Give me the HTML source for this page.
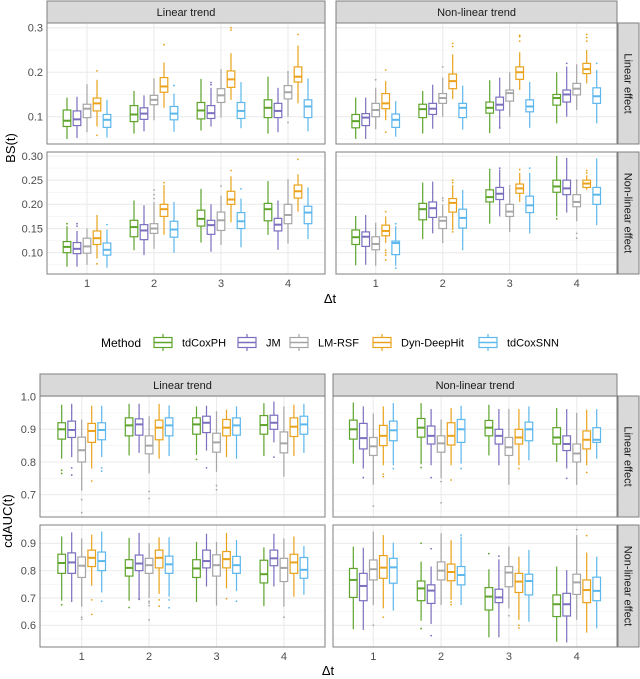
<!DOCTYPE html>
<html><head><meta charset="utf-8"><style>
body{margin:0;background:#fff;}
svg{display:block;font-family:"Liberation Sans",sans-serif;}
</style></head><body>
<svg id="c" width="640" height="679" viewBox="0 0 640 679" xmlns="http://www.w3.org/2000/svg"></svg>
<script>
const methods = ["tdCoxPH","JM","LM-RSF","Dyn-DeepHit","tdCoxSNN"];
const colors = ["#5ea42a","#7a6fbe","#a6a6a6","#eaa21a","#5bb7ec"];
const groups = ["1","2","3","4"];
const colTitles = ["Linear trend","Non-linear trend"];
const rowTitles = ["Linear effect","Non-linear effect"];
// box stats [low whisker, q1, median, q3, high whisker]
const bsLinLin = [
 [[0.05,0.078,0.091,0.115,0.143],[0.052,0.08,0.094,0.113,0.145],[0.065,0.098,0.118,0.128,0.173],[0.078,0.113,0.13,0.142,0.183],[0.053,0.076,0.093,0.105,0.138]],
 [[0.062,0.089,0.105,0.125,0.158],[0.067,0.094,0.107,0.12,0.148],[0.092,0.127,0.138,0.148,0.186],[0.12,0.155,0.168,0.188,0.222],[0.066,0.093,0.107,0.123,0.152]],
 [[0.069,0.095,0.114,0.132,0.185],[0.078,0.096,0.108,0.125,0.165],[0.098,0.132,0.148,0.163,0.207],[0.138,0.166,0.184,0.203,0.243],[0.074,0.096,0.113,0.132,0.178]],
 [[0.062,0.098,0.12,0.138,0.19],[0.065,0.098,0.113,0.13,0.165],[0.1,0.14,0.155,0.17,0.203],[0.13,0.178,0.19,0.212,0.26],[0.067,0.098,0.123,0.138,0.186]]];
const bsLinLinOut = [[[],[],[],[0.203,0.058],[]],[[],[],[],[0.262],[0.17]],[[],[0.172,0.177],[],[0.295,0.3],[]],[[],[],[0.087],[0.285],[]]];
const bsNonLin = [
 [[0.05,0.075,0.09,0.105,0.143],[0.05,0.08,0.098,0.107,0.143],[0.072,0.1,0.115,0.13,0.165],[0.092,0.118,0.13,0.152,0.18],[0.055,0.076,0.093,0.106,0.135]],
 [[0.062,0.098,0.117,0.128,0.158],[0.073,0.105,0.118,0.13,0.172],[0.1,0.13,0.142,0.152,0.188],[0.14,0.163,0.18,0.196,0.24],[0.071,0.098,0.12,0.13,0.17]],
 [[0.063,0.108,0.12,0.133,0.182],[0.073,0.115,0.127,0.144,0.188],[0.1,0.135,0.153,0.16,0.2],[0.16,0.184,0.2,0.212,0.245],[0.075,0.111,0.123,0.138,0.178]],
 [[0.085,0.126,0.142,0.15,0.2],[0.1,0.133,0.15,0.16,0.213],[0.115,0.149,0.163,0.175,0.218],[0.175,0.197,0.207,0.22,0.25],[0.085,0.13,0.146,0.165,0.205]]];
const bsNonLinOut = [[[],[],[0.183],[0.205,0.065],[]],[[],[],[0.212],[0.258,0.265],[]],[[],[0.075],[],[0.27,0.28,0.283],[]],[[],[0.22],[],[0.27,0.278,0.285],[0.22]]];
const bsLinNon = [
 [[0.071,0.1,0.112,0.123,0.155],[0.071,0.098,0.108,0.121,0.145],[0.075,0.099,0.113,0.13,0.15],[0.088,0.117,0.13,0.145,0.178],[0.069,0.095,0.106,0.12,0.148]],
 [[0.105,0.133,0.153,0.167,0.208],[0.095,0.127,0.146,0.158,0.198],[0.108,0.14,0.15,0.16,0.205],[0.137,0.175,0.19,0.2,0.24],[0.1,0.132,0.148,0.165,0.205]],
 [[0.121,0.155,0.17,0.188,0.232],[0.102,0.138,0.157,0.167,0.2],[0.116,0.146,0.167,0.184,0.218],[0.163,0.2,0.21,0.227,0.258],[0.111,0.15,0.165,0.183,0.212]],
 [[0.137,0.166,0.19,0.202,0.248],[0.106,0.145,0.158,0.171,0.208],[0.119,0.16,0.178,0.2,0.252],[0.185,0.213,0.227,0.24,0.262],[0.128,0.16,0.183,0.196,0.235]]];
const bsLinNonOut = [[[0.16],[0.155,0.16],[],[0.077],[0.158]],[[],[],[0.212,0.22,0.23],[0.245],[]],[[],[],[0.238],[0.27],[0.232]],[[],[],[],[0.293],[]]];
const bsNonNon = [
 [[0.074,0.117,0.132,0.147,0.176],[0.075,0.113,0.133,0.143,0.178],[0.073,0.106,0.118,0.133,0.162],[0.12,0.135,0.145,0.157,0.175],[0.073,0.096,0.12,0.124,0.155]],
 [[0.128,0.168,0.19,0.202,0.245],[0.14,0.173,0.192,0.205,0.247],[0.12,0.15,0.166,0.174,0.2],[0.147,0.184,0.203,0.212,0.24],[0.105,0.151,0.172,0.19,0.23]],
 [[0.16,0.205,0.215,0.23,0.27],[0.175,0.21,0.222,0.235,0.272],[0.143,0.175,0.185,0.2,0.235],[0.205,0.223,0.233,0.242,0.265],[0.14,0.183,0.198,0.217,0.265]],
 [[0.175,0.225,0.237,0.25,0.3],[0.183,0.22,0.233,0.25,0.296],[0.165,0.195,0.205,0.22,0.25],[0.23,0.235,0.243,0.25,0.26],[0.157,0.2,0.22,0.235,0.295]]];
const bsNonNonOut = [[[],[],[],[0.105,0.1,0.095,0.085,0.185],[0.16,0.068]],[[],[],[0.208,0.213],[0.245,0.25,0.143],[]],[[0.272],[0.275],[0.238],[0.272],[0.275]],[[0.17],[],[0.14,0.13,0.25],[0.27,0.265],[]]];
const aucLinLin = [
 [[0.81,0.87,0.9,0.92,0.975],[0.815,0.875,0.898,0.925,0.978],[0.712,0.8,0.836,0.876,0.93],[0.78,0.86,0.895,0.918,0.972],[0.815,0.868,0.898,0.92,0.972]],
 [[0.82,0.88,0.912,0.935,0.978],[0.828,0.882,0.915,0.932,0.978],[0.765,0.825,0.85,0.88,0.94],[0.81,0.868,0.905,0.928,0.978],[0.818,0.88,0.912,0.935,0.973]],
 [[0.822,0.885,0.915,0.935,0.97],[0.835,0.89,0.92,0.94,0.972],[0.77,0.83,0.86,0.888,0.955],[0.815,0.88,0.905,0.93,0.96],[0.81,0.882,0.912,0.935,0.97]],
 [[0.818,0.885,0.913,0.942,0.98],[0.86,0.9,0.92,0.943,0.985],[0.755,0.828,0.857,0.892,0.97],[0.818,0.878,0.908,0.935,0.975],[0.828,0.885,0.915,0.94,0.978]]];
const aucLinLinOut = [[[0.775,0.765],[0.782,0.76],[0.685,0.645],[0.742],[0.782,0.772]],[[],[],[0.71,0.688],[],[]],[[0.808],[0.782],[0.728,0.715],[],[]],[[],[0.815],[],[],[]]];
const aucNonLin = [
 [[0.795,0.87,0.9,0.928,0.982],[0.78,0.84,0.873,0.918,0.97],[0.73,0.82,0.848,0.875,0.948],[0.79,0.85,0.88,0.912,0.97],[0.79,0.865,0.897,0.925,0.98]],
 [[0.793,0.876,0.905,0.933,0.98],[0.79,0.855,0.88,0.91,0.962],[0.75,0.83,0.857,0.88,0.93],[0.79,0.852,0.88,0.92,0.965],[0.795,0.86,0.9,0.93,0.972]],
 [[0.82,0.88,0.905,0.927,0.975],[0.79,0.855,0.88,0.9,0.962],[0.73,0.82,0.845,0.875,0.962],[0.79,0.855,0.875,0.9,0.962],[0.805,0.865,0.9,0.922,0.97]],
 [[0.8,0.855,0.875,0.905,0.965],[0.78,0.835,0.855,0.88,0.962],[0.73,0.8,0.826,0.855,0.95],[0.79,0.84,0.868,0.895,0.96],[0.81,0.86,0.868,0.905,0.962]]];
const aucNonLinOut = [[[],[0.752],[0.665],[0.763,0.755],[0.78]],[[0.783],[0.752],[0.74,0.675],[0.745],[0.78]],[[],[],[],[0.78],[]],[[],[0.75],[],[0.768],[]]];
const aucLinNon = [
 [[0.69,0.79,0.828,0.86,0.925],[0.685,0.79,0.83,0.865,0.94],[0.668,0.775,0.818,0.85,0.918],[0.745,0.815,0.847,0.875,0.932],[0.72,0.8,0.835,0.868,0.943]],
 [[0.69,0.78,0.81,0.84,0.92],[0.693,0.8,0.826,0.857,0.938],[0.7,0.79,0.82,0.845,0.9],[0.715,0.81,0.847,0.875,0.922],[0.705,0.79,0.823,0.853,0.922]],
 [[0.685,0.775,0.808,0.84,0.905],[0.742,0.81,0.835,0.875,0.935],[0.672,0.78,0.82,0.858,0.905],[0.735,0.81,0.842,0.87,0.938],[0.725,0.79,0.82,0.852,0.912]],
 [[0.67,0.755,0.787,0.838,0.885],[0.742,0.818,0.845,0.875,0.935],[0.668,0.76,0.81,0.845,0.918],[0.705,0.79,0.83,0.86,0.925],[0.712,0.772,0.803,0.848,0.89]]];
const aucLinNonOut = [[[0.675],[],[0.63,0.622],[0.693,0.64],[0.688]],[[0.665],[0.695],[0.688,0.682,0.672,0.62],[0.693,0.67],[0.693,0.664]],[[],[],[],[0.697],[0.688]],[[],[],[0.63],[],[]]];
const aucNonNon = [
 [[0.585,0.702,0.766,0.808,0.888],[0.583,0.69,0.744,0.79,0.884],[0.674,0.766,0.805,0.839,0.943],[0.662,0.772,0.811,0.855,0.93],[0.654,0.754,0.812,0.845,0.902]],
 [[0.617,0.69,0.735,0.762,0.833],[0.605,0.68,0.727,0.748,0.815],[0.674,0.766,0.8,0.832,0.937],[0.693,0.763,0.795,0.824,0.912],[0.674,0.748,0.784,0.815,0.924]],
 [[0.556,0.656,0.705,0.738,0.805],[0.556,0.683,0.702,0.732,0.841],[0.662,0.741,0.793,0.815,0.888],[0.62,0.72,0.76,0.79,0.851],[0.613,0.711,0.762,0.787,0.876]],
 [[0.54,0.632,0.677,0.711,0.815],[0.537,0.634,0.677,0.717,0.802],[0.62,0.713,0.757,0.787,0.93],[0.573,0.683,0.729,0.766,0.866],[0.589,0.69,0.726,0.776,0.851]]];
const aucNonNonOut = [[[],[],[0.6],[0.63],[]],[[0.9,0.588],[0.88,0.562],[],[0.685,0.675],[0.93]],[[0.862],[0.853],[0.635],[0.6,0.59],[]],[[],[],[0.95],[0.928],[]]];
const bsTicksTop = [0.1,0.2,0.3];
const bsTicksBot = [0.10,0.15,0.20,0.25,0.30];
const aucTicksTop = [0.7,0.8,0.9,1.0];
const aucTicksBot = [0.6,0.7,0.8,0.9];

const svg = document.getElementById('c');
const NS = "http://www.w3.org/2000/svg";
function mk(tag, attrs, parent){const e=document.createElementNS(NS,tag);for(const k in attrs)e.setAttribute(k,attrs[k]);(parent||svg).appendChild(e);return e;}
function txt(s, attrs, parent){const e=mk('text',attrs,parent);e.textContent=s;return e;}

function linScale(v0,y0,v1,y1){return v=>y0+(v-v0)*(y1-y0)/(v1-v0);}

function panel(name, x0,x1,y0,y1, yScale, ticks, decimals, gx0, gdx, data, outs, showY, showX){
  const g = mk('g',{});
  
  
  mk('rect',{x:x0,y:y0,width:x1-x0,height:y1-y0,fill:'#fff'},g);
  const step = ticks[1]-ticks[0];
  for(let i=-1;i<ticks.length;i++){
    const v = ticks[0]+(i+0.5)*step; const y=yScale(v);
    if(y>y0&&y<y1) mk('line',{x1:x0,x2:x1,y1:y,y2:y,stroke:'#f2f2f2','stroke-width':0.6},g);
  }
  ticks.forEach(t=>{const y=yScale(t); if(y>=y0-0.5&&y<=y1) mk('line',{x1:x0,x2:x1,y1:y,y2:y,stroke:'#ebebeb','stroke-width':1.1},g);
    if(showY){const l=txt(t.toFixed(decimals),{x:x0-4,y:y+3.8,'text-anchor':'end','font-size':11,fill:'#4d4d4d'});
      
      }
  });
  groups.forEach((gn,gi)=>{const cx=gx0+gi*gdx;
    mk('line',{x1:cx,x2:cx,y1:y0,y2:y1,stroke:'#ebebeb','stroke-width':1.1},g);
    if(showX){const l=txt(gn,{x:cx,y:y1+13,'text-anchor':'middle','font-size':11,fill:'#4d4d4d'});
      
      }
  });
  groups.forEach((gn,gi)=>{const cx=gx0+gi*gdx;
    methods.forEach((m,mi)=>{
      const s=data[gi][mi]; const x=cx+(mi-2)*10; const w=7.6; const c=colors[mi];
      const b=mk('g',{},g);
      
      
      mk('line',{x1:x,x2:x,y1:yScale(s[0]),y2:yScale(s[1]),stroke:c,'stroke-width':1.2},b);
      mk('line',{x1:x,x2:x,y1:yScale(s[3]),y2:yScale(s[4]),stroke:c,'stroke-width':1.2},b);
      mk('rect',{x:x-w/2,y:yScale(s[3]),width:w,height:Math.max(0.5,yScale(s[1])-yScale(s[3])),fill:'#fff',stroke:c,'stroke-width':1.2},b);
      mk('line',{x1:x-w/2,x2:x+w/2,y1:yScale(s[2]),y2:yScale(s[2]),stroke:c,'stroke-width':2},b);
      outs[gi][mi].forEach(o=>mk('circle',{cx:x,cy:yScale(o),r:0.9,fill:c},b));
    });
  });
  mk('rect',{x:x0,y:y0,width:x1-x0,height:y1-y0,fill:'none',stroke:'#7f7f7f','stroke-width':1},g);
}
function strip(x,y,w,h,label,vertical){
  const g=mk('g',{});
  
  
  mk('rect',{x:x,y:y,width:w,height:h,fill:'#d9d9d9',stroke:'#7f7f7f','stroke-width':1},g);
  if(vertical) txt(label,{x:x+w/2,y:y+h/2,'text-anchor':'middle','font-size':11,fill:'#1a1a1a',transform:`rotate(90 ${x+w/2} ${y+h/2}) translate(0 4)`},g);
  else txt(label,{x:x+w/2,y:y+h/2+4,'text-anchor':'middle','font-size':11,fill:'#1a1a1a'},g);
}

const bsTop = linScale(0.1,116.7,0.3,27.8);
const bsBot = linScale(0.1,252.7,0.3,156);
panel('bs-linear-trend-linear-effect',47,325,23,144,bsTop,bsTicksTop,1,87,67,bsLinLin,bsLinLinOut,true,false);
panel('bs-nonlinear-trend-linear-effect',336,617,23,144,bsTop,bsTicksTop,1,375.7,67,bsNonLin,bsNonLinOut,false,false);
panel('bs-linear-trend-nonlinear-effect',47,325,152,274,bsBot,bsTicksBot,2,87,67,bsLinNon,bsLinNonOut,true,true);
panel('bs-nonlinear-trend-nonlinear-effect',336,617,152,274,bsBot,bsTicksBot,2,375.7,67,bsNonNon,bsNonNonOut,false,true);
strip(47,1,278,22,colTitles[0]); strip(336,1,281,22,colTitles[1]);
strip(618,23,21,121,rowTitles[0],true); strip(618,152,21,122,rowTitles[1],true);
let t=txt('BS(t)',{x:15,y:148,'text-anchor':'middle','font-size':13,fill:'#000',transform:'rotate(-90 15 148)'});
 
t=txt('Δt',{x:330,y:303,'text-anchor':'middle','font-size':13,fill:'#000'});
 

const lg=mk('g',{});


txt('Method',{x:101,y:347,'font-size':12,fill:'#000'},lg);
const keyX=[153,237,289,372,478];
methods.forEach((m,i)=>{const e=mk('g',{},lg);
  
  
  const x=keyX[i]+10,c=colors[i];
  mk('line',{x1:x,x2:x,y1:334,y2:351,stroke:c,'stroke-width':1.2},e);
  mk('rect',{x:x-9,y:337.5,width:18,height:10,fill:'#fff',stroke:c,'stroke-width':1.2},e);
  mk('line',{x1:x-9,x2:x+9,y1:342.5,y2:342.5,stroke:c,'stroke-width':1.6},e);
  txt(m,{x:keyX[i]+29,y:346.5,'font-size':11,fill:'#000'},e);
});

const aucTop = linScale(0.9,429.3,0.7,494.7);
const aucBot = linScale(0.9,543.3,0.6,625.3);
panel('auc-linear-trend-linear-effect',40,325,396,517,aucTop,aucTicksTop,1,81.7,67.4,aucLinLin,aucLinLinOut,true,false);
panel('auc-nonlinear-trend-linear-effect',333,617,396,517,aucTop,aucTicksTop,1,373.3,67.8,aucNonLin,aucNonLinOut,false,false);
panel('auc-linear-trend-nonlinear-effect',40,325,525,647,aucBot,aucTicksBot,1,81.7,67.4,aucLinNon,aucLinNonOut,true,true);
panel('auc-nonlinear-trend-nonlinear-effect',333,617,525,647,aucBot,aucTicksBot,1,373.3,67.8,aucNonNon,aucNonNonOut,false,true);
strip(40,374,285,22,colTitles[0]); strip(333,374,284,22,colTitles[1]);
strip(618,396,21,121,rowTitles[0],true); strip(618,525,21,122,rowTitles[1],true);
t=txt('cdAUC(t)',{x:12,y:521,'text-anchor':'middle','font-size':13,fill:'#000',transform:'rotate(-90 12 521)'});
 
t=txt('Δt',{x:328,y:675,'text-anchor':'middle','font-size':13,fill:'#000'});
 
</script>
</body></html>
